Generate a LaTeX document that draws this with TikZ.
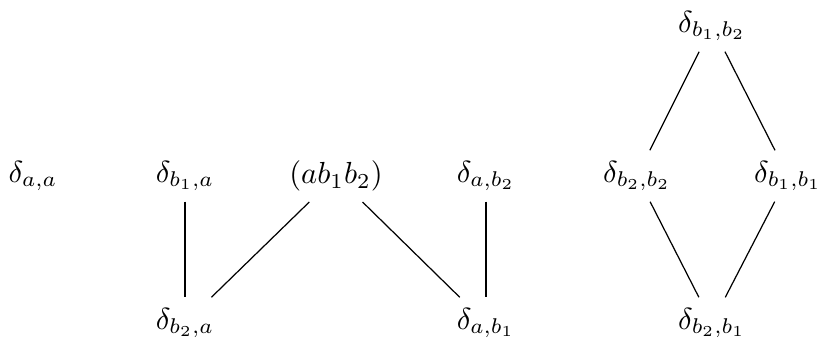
\documentclass[tikz,border=0pt]{standalone}
\usepackage{amsmath}
\usepackage{tikz}
\usetikzlibrary{positioning}
\tikzset{
  elt/.style={inner sep=3.33pt},
  cover/.style={draw=black,line width=0.4pt}
}
\begin{document}
\begin{tikzpicture}[x=0.328pt,y=-0.328pt]
  \useasboundingbox (0,0) rectangle (817,341);
  % middle row
  \node[elt] (aa)   at (33,176)  {$\delta_{a,a}$};
  \node[elt] (b1a)  at (185,176) {$\delta_{b_1,a}$};
  \node[elt] (abb)  at (336,176) {$(ab_1b_2)$};
  \node[elt] (ab2)  at (486,176) {$\delta_{a,b_2}$};
  \node[elt] (b2a)  at (185,323) {$\delta_{b_2,a}$};
  \node[elt] (ab1)  at (486,323) {$\delta_{a,b_1}$};
  % diamond
  \node[elt] (b1b2) at (712,26)  {$\delta_{b_1,b_2}$};
  \node[elt] (b2b2) at (637,176) {$\delta_{b_2,b_2}$};
  \node[elt] (b1b1) at (788,176) {$\delta_{b_1,b_1}$};
  \node[elt] (b2b1) at (712,323) {$\delta_{b_2,b_1}$};
  \foreach \x/\y in {b1a/b2a,abb/b2a,abb/ab1,ab2/ab1,b1b2/b2b2,b1b2/b1b1,b2b2/b2b1,b1b1/b2b1}
    \draw[cover] (\x) -- (\y);
\end{tikzpicture}
\end{document}
